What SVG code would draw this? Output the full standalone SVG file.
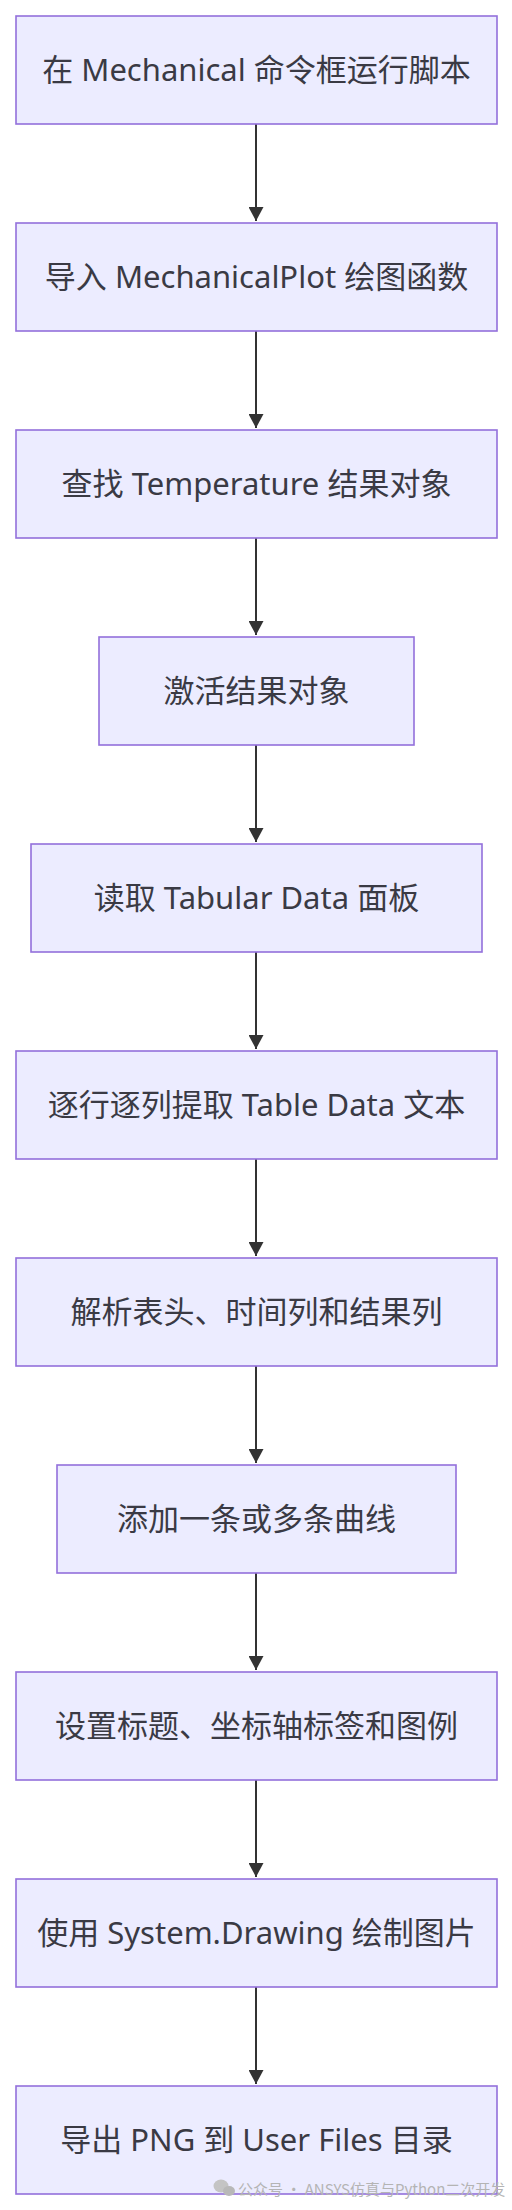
<svg xmlns="http://www.w3.org/2000/svg" width="512" height="2210" viewBox="0 0 512 2210">
<style>
.box{fill:#ECECFF;stroke:#9370DB;stroke-width:1.6}
.lbl{font-family:"Noto Sans","Noto Sans CJK SC",sans-serif;font-size:31px;fill:#3a3a44;text-anchor:middle}
.edge{stroke:#333333;stroke-width:2;fill:none}
.wm{font-family:"Noto Sans CJK SC",sans-serif;font-size:15px;fill:#b4b4b4}
</style>
<defs>
<marker id="arrow" viewBox="0 0 14 15" refX="14" refY="7.5" markerWidth="14" markerHeight="15" markerUnits="userSpaceOnUse" orient="auto">
<path d="M0,0 L14,7.5 L0,15 z" fill="#333333"/>
</marker>
</defs>
<rect width="512" height="2210" fill="#ffffff"/>
<g id="connectors">
<path class="edge" d="M256,124 L256,221" marker-end="url(#arrow)"/>
<path class="edge" d="M256,331 L256,428" marker-end="url(#arrow)"/>
<path class="edge" d="M256,538 L256,635" marker-end="url(#arrow)"/>
<path class="edge" d="M256,745 L256,842" marker-end="url(#arrow)"/>
<path class="edge" d="M256,952 L256,1049" marker-end="url(#arrow)"/>
<path class="edge" d="M256,1159 L256,1256" marker-end="url(#arrow)"/>
<path class="edge" d="M256,1366 L256,1463" marker-end="url(#arrow)"/>
<path class="edge" d="M256,1573 L256,1670" marker-end="url(#arrow)"/>
<path class="edge" d="M256,1780 L256,1877" marker-end="url(#arrow)"/>
<path class="edge" d="M256,1987 L256,2084" marker-end="url(#arrow)"/>
</g>
<g id="n1"><rect class="box" x="16" y="16" width="481" height="108"/><text class="lbl" x="256.5" y="81">在 Mechanical 命令框运行脚本</text></g>
<g id="n2"><rect class="box" x="16" y="223" width="481" height="108"/><text class="lbl" x="256.5" y="288">导入 MechanicalPlot 绘图函数</text></g>
<g id="n3"><rect class="box" x="16" y="430" width="481" height="108"/><text class="lbl" x="256.5" y="495">查找 Temperature 结果对象</text></g>
<g id="n4"><rect class="box" x="99" y="637" width="315" height="108"/><text class="lbl" x="256.5" y="702">激活结果对象</text></g>
<g id="n5"><rect class="box" x="31" y="844" width="451" height="108"/><text class="lbl" x="256.5" y="909">读取 Tabular Data 面板</text></g>
<g id="n6"><rect class="box" x="16" y="1051" width="481" height="108"/><text class="lbl" x="256.5" y="1116">逐行逐列提取 Table Data 文本</text></g>
<g id="n7"><rect class="box" x="16" y="1258" width="481" height="108"/><text class="lbl" x="256.5" y="1323">解析表头、时间列和结果列</text></g>
<g id="n8"><rect class="box" x="57" y="1465" width="399" height="108"/><text class="lbl" x="256.5" y="1530">添加一条或多条曲线</text></g>
<g id="n9"><rect class="box" x="16" y="1672" width="481" height="108"/><text class="lbl" x="256.5" y="1737">设置标题、坐标轴标签和图例</text></g>
<g id="n10"><rect class="box" x="16" y="1879" width="481" height="108"/><text class="lbl" x="256.5" y="1944">使用 System.Drawing 绘制图片</text></g>
<g id="n11"><rect class="box" x="16" y="2086" width="481" height="108"/><text class="lbl" x="256.5" y="2151">导出 PNG 到 User Files 目录</text></g>
<g id="watermark">
<ellipse cx="221" cy="2186" rx="7.5" ry="6.5" fill="#c4c4c4"/>
<ellipse cx="229" cy="2191" rx="6" ry="5" fill="#b8b8b8"/>
<text class="wm" x="238" y="2195">公众号 · ANSYS仿真与Python二次开发</text>
</g>
</svg>
